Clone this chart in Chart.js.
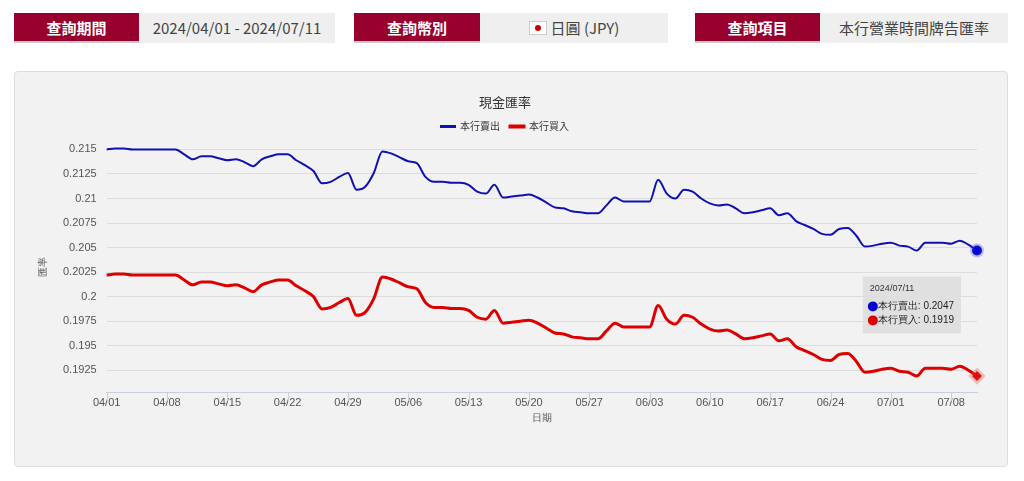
<!DOCTYPE html>
<html><head><meta charset="utf-8">
<script src="https://cdn.jsdelivr.net/npm/chart.js@4/dist/chart.umd.min.js"></script>
<style>
body{margin:0;background:#fff;font-family:"Noto Sans CJK TC","Noto Sans",sans-serif;width:1024px;height:481px;overflow:hidden;position:relative}
.lab{position:absolute;top:13px;height:30px;background:#98002e;color:#fff;font-weight:bold;font-size:15px;line-height:30px;text-align:center;border-bottom:2px solid #c8c8c8;box-sizing:border-box}
.val{position:absolute;top:13px;height:30px;background:#efefef;color:#444;font-size:15px;line-height:30px;text-align:center}
#panel{position:absolute;left:14px;top:71px;width:994px;height:396px;background:#f2f2f2;border:1px solid #ddd;border-radius:4px;box-sizing:border-box}
.flag{display:inline-block;width:16px;height:12px;background:#fff;border:1px solid #ccc;vertical-align:-1px;position:relative;margin-right:4px}
.flag:after{content:"";position:absolute;left:5px;top:3px;width:6px;height:6px;border-radius:50%;background:#c00}
</style></head><body>
<div class="lab" style="left:14px;width:125px">查詢期間</div>
<div class="val" style="left:139px;width:196px">2024/04/01 - 2024/07/11</div>
<div class="lab" style="left:354px;width:126px">查詢幣別</div>
<div class="val" style="left:480px;width:188px"><span class="flag"></span>日圓 (JPY)</div>
<div class="lab" style="left:695px;width:125px">查詢項目</div>
<div class="val" style="left:820px;width:188px">本行營業時間牌告匯率</div>
<div id="panel"><canvas id="c" width="992" height="394"></canvas></div>
<script>
const startDate = new Date(2024, 3, 1);
const days = [];
for (let i = 0; i < 102; i++) {
  const d = new Date(startDate.getTime() + i * 86400000);
  days.push(String(d.getMonth() + 1).padStart(2, "0") + "/" + String(d.getDate()).padStart(2, "0"));
}
const sellRates = [
  .2150,.2151,.2151,.2150,.2150,.2150,.2150,.2150,.2150,.2145,.2140,.2143,.2143,.2141,.2139,.2140,
  .2137,.2133,.2140,.2143,.2145,.2145,.2139,.2134,.2128,.21155,.2117,.2122,.2126,.2109,.2112,.2126,
  .2148,.2146,.2142,.2138,.2136,.2122,.2117,.2117,.2116,.2116,.2114,.2107,.2105,.2114,.2101,.2102,
  .2103,.2104,.2101,.2096,.2091,.2090,.2087,.2086,.2085,.2085,.2093,.2101,.2097,.2097,.2097,.2097,
  .2119,.2105,.2100,.2109,.2107,.2100,.2095,.2093,.2094,.2090,.2085,.2086,.2088,.2090,.2083,.2085,
  .2077,.2073,.2069,.2064,.2063,.2069,.2070,.2062,.2051,.2052,.2054,.2055,.2052,.2051,.2047,.2055,
  .2055,.2055,.2054,.2057,.2053,.2047
];
const buyRates = [
  .2022,.2023,.2023,.2022,.2022,.2022,.2022,.2022,.2022,.2017,.2012,.2015,.2015,.2013,.2011,.2012,
  .2009,.2005,.2012,.2015,.2017,.2017,.2011,.2006,.2000,.19875,.1989,.1994,.1998,.1981,.1984,.1998,
  .2020,.2018,.2014,.2010,.2008,.1994,.1989,.1989,.1988,.1988,.1986,.1979,.1977,.1986,.1973,.1974,
  .1975,.1976,.1973,.1968,.1963,.1962,.1959,.1958,.1957,.1957,.1965,.1973,.1969,.1969,.1969,.1969,
  .1991,.1977,.1972,.1981,.1979,.1972,.1967,.1965,.1966,.1962,.1957,.1958,.1960,.1962,.1955,.1957,
  .1949,.1945,.1941,.1936,.1935,.1941,.1942,.1934,.1923,.1924,.1926,.1927,.1924,.1923,.1919,.1927,
  .1927,.1927,.1926,.1929,.1925,.1919
];
const yTicks = [0.1925, 0.195, 0.1975, 0.2, 0.2025, 0.205, 0.2075, 0.21, 0.2125, 0.215];

Chart.Tooltip.positioners.beside = function (items) {
  if (!items.length) return false;
  return { x: items[0].element.x - 14, y: 304 - 71 };
};

const chart = new Chart(document.getElementById("c"), {
  type: "line",
  data: {
    labels: days,
    datasets: [{
      label: "本行賣出", data: sellRates, borderColor: "#1010b0", backgroundColor: "#0000cc",
      borderWidth: 2, pointRadius: 0, pointHoverRadius: 5, pointHoverBorderWidth: 4,
      pointHoverBorderColor: "rgba(60,60,220,0.3)", pointHoverBackgroundColor: "#0000cc",
      tension: 0.4, cubicInterpolationMode: "monotone", clip: false
    }, {
      label: "本行買入", data: buyRates, borderColor: "#dd0000", backgroundColor: "#dd0000",
      borderWidth: 3, pointRadius: 0, pointStyle: "rectRot", pointHoverRadius: 5, pointHoverBorderWidth: 5,
      pointHoverBorderColor: "rgba(230,60,60,0.3)", pointHoverBackgroundColor: "#dd0000",
      tension: 0.4, cubicInterpolationMode: "monotone", clip: false
    }]
  },
  options: {
    responsive: false, animation: false,
    layout: { padding: { left: 18, right: 30, top: 22, bottom: 38 } },
    interaction: { mode: "index", intersect: false },
    plugins: {
      title: { display: true, text: "現金匯率", color: "#333", font: { size: 13, weight: "normal", family: "Noto Sans CJK TC" }, padding: { top: 0, bottom: 2 } },
      legend: {
        labels: { boxWidth: 14, boxHeight: 1, color: "#333", font: { size: 10, family: "Noto Sans CJK TC" }, padding: 10 }
      },
      tooltip: {
        position: "beside", xAlign: "right", yAlign: "center", caretSize: 0,
        backgroundColor: "rgba(222,222,222,0.95)", titleColor: "#333", bodyColor: "#222",
        titleFont: { size: 9, weight: "normal" }, bodyFont: { size: 10 },
        padding: 7, cornerRadius: 0, boxWidth: 6, boxHeight: 6, usePointStyle: true,
        callbacks: {
          title: items => "2024/" + items[0].label,
          label: it => it.dataset.label + ": " + it.raw.toFixed(4),
          labelColor: it => ({ borderColor: it.dataset.backgroundColor, backgroundColor: it.dataset.backgroundColor }),
          labelPointStyle: () => ({ pointStyle: "circle", rotation: 0 })
        }
      }
    },
    scales: {
      x: {
        offset: false,
        title: { display: true, text: "日期", color: "#555", font: { size: 10 }, padding: { top: 2 } },
        grid: { display: false, drawTicks: true, tickLength: 4 },
        border: { color: "#c8d0e0" },
        ticks: {
          autoSkip: false, maxRotation: 0, color: "#555", font: { size: 11 }, padding: 0,
          callback: function (v, i) { return i % 7 === 0 ? days[i] : ""; }
        }
      },
      y: {
        min: 0.1902, max: 0.2158,
        afterBuildTicks: axis => { axis.ticks = yTicks.map(v => ({ value: v })); },
        title: { display: true, text: "匯率", color: "#555", font: { size: 10 } },
        grid: { color: "#dcdcdc", drawTicks: false },
        border: { display: false },
        ticks: { color: "#555", font: { size: 11 }, padding: 10, callback: v => String(v) }
      }
    }
  },
  plugins: [{
    id: "xticks",
    afterDraw(c) {
      const ctx = c.ctx, xs = c.scales.x, b = c.chartArea.bottom;
      ctx.save(); ctx.strokeStyle = "#c8d0e0"; ctx.lineWidth = 1;
      for (let i = 0; i < days.length; i += 7) {
        const x = Math.round(xs.getPixelForValue(i)) + 0.5;
        ctx.beginPath(); ctx.moveTo(x, b); ctx.lineTo(x, b + 8); ctx.stroke();
      }
      ctx.restore();
    }
  }]
});
const last = days.length - 1;
const act = [{ datasetIndex: 0, index: last }, { datasetIndex: 1, index: last }];
chart.setActiveElements(act);
chart.tooltip.setActiveElements(act, { x: 0, y: 0 });
chart.update();
</script>
</body></html>
